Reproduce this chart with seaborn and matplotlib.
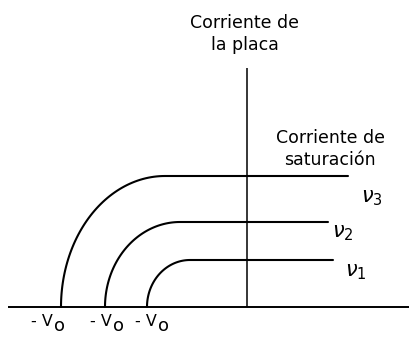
import numpy as np
import pandas as pd
import matplotlib
matplotlib.use("Agg")
import matplotlib.pyplot as plt
import seaborn as sns

# Photoelectric plate current vs. applied voltage for three light frequencies
frequencies = [r"$\nu_1$", r"$\nu_2$", r"$\nu_3$"]
stopping_voltage = [-100, -142, -186]    # where each curve meets the voltage axis
knee_voltage = [-57, -67, -82]           # where the current levels off
saturation_current = [47, 85, 131]       # saturation plateau of each curve
plateau_end = [86, 81, 101]              # right end of each plateau
stop_label_x = [-199, -140, -95]         # positions of the -V0 labels

sns.set_theme(style="white")
plt.rcParams["font.family"] = ["DejaVu Sans"]
plt.rcParams["mathtext.fontset"] = "dejavusans"
plt.rcParams["text.color"] = "black"

rows = []
for name, v0, vk, isat, vend in zip(frequencies, stopping_voltage, knee_voltage,
                                    saturation_current, plateau_end):
    t = np.linspace(np.pi, np.pi / 2, 60)
    xs = np.append(vk + (vk - v0) * np.cos(t), vend)
    ys = np.append(isat * np.sin(t), isat)
    for i, (x, y) in enumerate(zip(xs, ys)):
        rows.append({"curve": name, "order": i, "V": x, "I": y})
df = pd.DataFrame(rows)

fig = plt.figure(figsize=(4.09, 3.41), dpi=100)
ax = fig.add_axes([0, 0, 1, 1])
ax.set_xlim(-247, 162)
ax.set_ylim(-34, 307)

# axes of the diagram
ax.plot([-239, 162], [0, 0], color="black", lw=1.4, solid_capstyle="butt")
ax.plot([0, 0], [0, 239], color="black", lw=1.1, solid_capstyle="butt")

sns.lineplot(data=df, x="V", y="I", hue="curve", estimator=None, sort=False,
             palette=["black"] * 3, legend=False, lw=1.5, ax=ax)

label_dx = [23, 15, 24]
label_dy = [-12, -11, -22]
for name, vend, isat, dx, dy in zip(frequencies, plateau_end, saturation_current,
                                    label_dx, label_dy):
    ax.text(vend + dx, isat + dy, name, fontsize=15, ha="center", va="center",
            style="italic", color="black")

for x in stop_label_x:
    ax.text(x + 5, -15, "- V", fontsize=11.5, ha="right", va="center", color="black")
    ax.text(x + 6, -19, "o", fontsize=13, ha="left", va="center", color="black")

ax.text(-2, 273, "Corriente de\nla placa", fontsize=12.5, ha="center", va="center",
        linespacing=1.35, color="black")
ax.text(83, 158, "Corriente de\nsaturación", fontsize=12.5, ha="center", va="center",
        linespacing=1.3, color="black")

ax.set_axis_off()
fig.savefig("out.png", dpi=100, facecolor="white")
